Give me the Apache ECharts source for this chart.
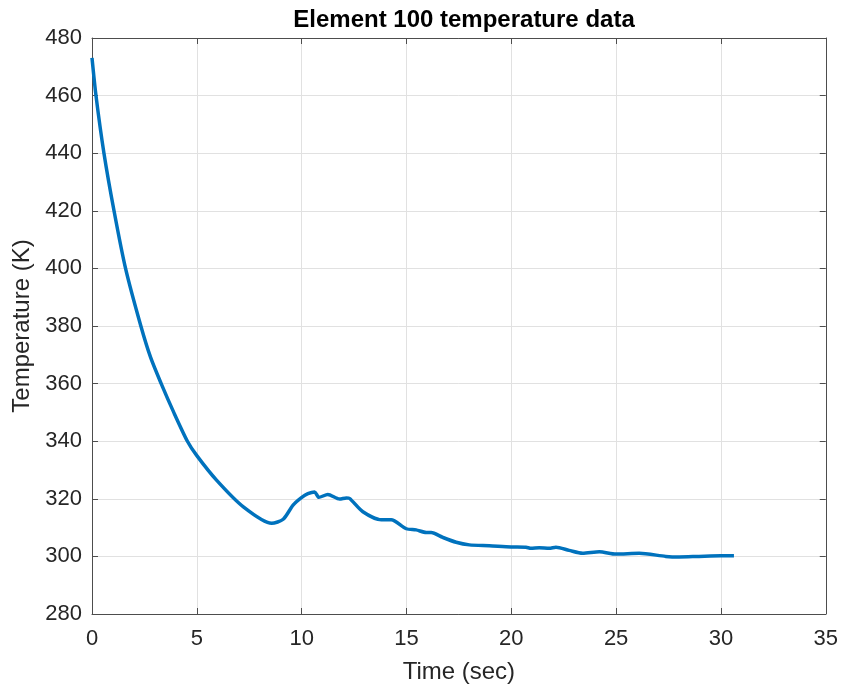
<!DOCTYPE html>
<html>
<head>
<meta charset="utf-8">
<script src="https://cdn.jsdelivr.net/npm/echarts@6/dist/echarts.min.js"></script>
<style>html,body{margin:0;padding:0;background:#fff}#c{width:841px;height:689px}</style>
</head>
<body>
<div id="c"></div>
<script>
const timeSec = [0, 0.19, 0.57, 1.05, 1.6, 2.33, 2.8, 3.3, 3.9, 4.55, 5.0, 5.95, 7.22, 8.57, 9.12, 9.59, 9.99, 10.3, 10.62, 10.82, 11.25, 11.81, 12.13, 12.29, 12.92, 13.8, 14.27, 14.99, 15.46, 15.94, 16.18, 16.73, 17.37, 18.0, 18.95, 19.99, 20.7, 20.94, 21.33, 21.81, 22.13, 22.76, 23.4, 24.2, 24.99, 26.1, 27.37, 28.0, 28.95, 30.0, 30.62];
const temperatureK = [473.1, 460, 440, 420, 400, 380, 369, 360, 350, 340, 335.0, 326.4, 317.2, 311.5, 312.9, 317.8, 320.4, 321.8, 322.4, 320.5, 321.5, 319.9, 320.3, 320.1, 315.5, 312.7, 312.7, 309.6, 309.2, 308.3, 308.3, 306.6, 304.9, 304.0, 303.7, 303.3, 303.2, 302.8, 303.0, 302.8, 303.2, 302.1, 301.1, 301.6, 300.8, 301.1, 300.0, 299.8, 300.0, 300.2, 300.2];
const titleText = 'Element 100 temperature data';
const xName = 'Time (sec)';
const yName = 'Temperature (K)';

const font = 'Liberation Sans, Arial, sans-serif';
const axisCol = '#4d4d4d';
const textCol = '#262626';
const data = timeSec.map((t, i) => [t, temperatureK[i]]);

const chart = echarts.init(document.getElementById('c'));
chart.setOption({
  animation: false,
  title: {
    text: titleText, left: 459, textAlign: 'center', top: 3,
    textStyle: { fontFamily: font, fontWeight: 'bold', fontSize: 24, color: '#000' }
  },
  grid: { left: 92, right: 15, top: 38, bottom: 71, containLabel: false },
  xAxis: [{
    type: 'value', min: 0, max: 35, interval: 5,
    name: xName, nameLocation: 'middle', nameGap: 46,
    nameTextStyle: { fontFamily: font, fontSize: 24, color: textCol },
    axisLine: { show: true, onZero: false, lineStyle: { color: axisCol, width: 1 } },
    axisTick: { show: true, inside: true, length: 6, lineStyle: { color: axisCol } },
    axisLabel: { fontFamily: font, fontSize: 22, color: textCol, margin: 14 },
    splitLine: { show: true, lineStyle: { color: '#e1e1e1', width: 1 } }
  }, {
    type: 'value', min: 0, max: 35, interval: 5, position: 'top',
    axisLine: { show: true, onZero: false, lineStyle: { color: axisCol, width: 1 } },
    axisTick: { show: true, inside: true, length: 6, lineStyle: { color: axisCol } },
    axisLabel: { show: false }, splitLine: { show: false }
  }],
  yAxis: [{
    type: 'value', min: 280, max: 480, interval: 20,
    name: yName, nameLocation: 'middle', nameGap: 54, nameRotate: 90,
    nameTextStyle: { fontFamily: font, fontSize: 24, color: textCol },
    axisLine: { show: true, onZero: false, lineStyle: { color: axisCol, width: 1 } },
    axisTick: { show: true, inside: true, length: 6, lineStyle: { color: axisCol } },
    axisLabel: { fontFamily: font, fontSize: 22, color: textCol, margin: 10 },
    splitLine: { show: true, lineStyle: { color: '#e1e1e1', width: 1 } }
  }, {
    type: 'value', min: 280, max: 480, interval: 20, position: 'right',
    axisLine: { show: true, onZero: false, lineStyle: { color: axisCol, width: 1 } },
    axisTick: { show: true, inside: true, length: 6, lineStyle: { color: axisCol } },
    axisLabel: { show: false }, splitLine: { show: false }
  }],
  series: [{
    type: 'line', data: data, xAxisIndex: 0, yAxisIndex: 0,
    smooth: 0.25, showSymbol: false, symbol: 'none',
    lineStyle: { color: '#0072BD', width: 3.5 }
  }]
});
</script>
</body>
</html>
